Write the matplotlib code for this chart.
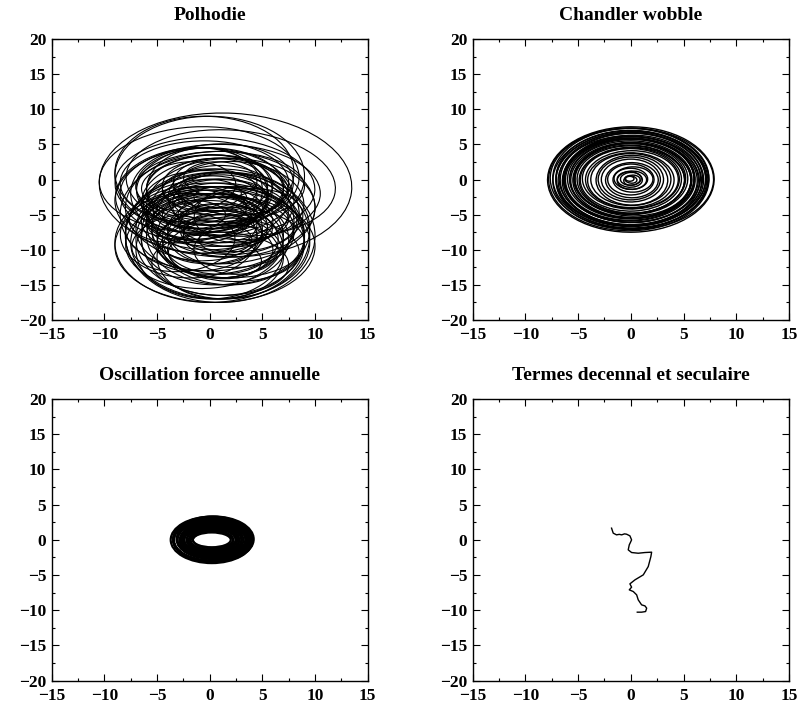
import matplotlib
matplotlib.use("Agg")
import matplotlib.pyplot as plt
from matplotlib.patches import Ellipse
from matplotlib.ticker import MultipleLocator

# ---------------- data ----------------
titles = ["Polhodie", "Chandler wobble", "Oscillation forcee annuelle", "Termes decennal et seculaire"]
xticks = [-15, -10, -5, 0, 5, 10, 15]
yticks = [-20, -15, -10, -5, 0, 5, 10, 15, 20]

# loops of the polhody: centre x, centre y, width, height, tilt (deg)
pol_cx = [1.5, 0, -1, 0.5, -0.5, 0, 0.5, 0, 0.5, 0, 0.5, 0, 1, -0.5, 1, -1, 1, -0.5, 2,
          0, 1, 0, 1, 0, 1, -0.5, 2, 0.5,
          1, 0.5, 1, 1.5, 0.5, 1, 1, 0.5, 1, 1.5, 1, 0, 2, 1, 0, 1, 2, -1, 0.5, 1.5, 0, 1,
          -1.5, 2.5, 0, -2, 3, 1, -1, 2, 0.5, -0.5, 1.5, 0, 2, -1, 1,
          -2, 2, 0, 3, -1, 1.5, -2.5, 0.5, 2.5, -0.5, 1, -1.5, 0, 2, 1]
pol_cy = [-0.8, 0.5, 0, -1, -0.5, -1, -1.5, -1, -1, -1.5, -2, -2, -2.5, -1.5, -1, -2, -2, 1, -0.5,
          -4, -5, -6, -3, -5, -4, -3, -4, -3,
          -8, -8, -8.5, -8, -8.5, -8, -8.5, -8, -8, -8.5, -9, -9, -7, -6, -10, -11, -9, -7, -9.5, -8, -7, -10,
          -2, -3, -7, -8, -6, -4.5, -5.5, -10, -1, -9, -6.5, -3.5, -7.5, -4, -12,
          -1, -2, -4, -5, -6, -7, -9, -11, -10, -3, 0, -5, -8, -1, -6]
pol_w = [24, 18, 19, 19, 16, 14, 13, 12, 10, 9, 8, 6, 5, 11, 16, 13, 19, 17, 20,
         10, 8, 12, 9, 17, 18, 17, 16, 14,
         18, 17, 16, 15, 14, 12, 11, 9, 7, 5, 17, 18, 15, 14, 14, 12, 14, 12, 19, 16, 16, 10,
         15, 13, 11, 13, 12, 15, 10, 13, 15, 15, 9, 11, 12, 14, 13,
         9, 10, 7, 9, 11, 8, 10, 9, 8, 12, 7, 6, 10, 11, 13]
pol_h = [20.5, 17, 15, 14, 12, 11, 10, 9, 8, 6, 5, 4, 3, 12, 10, 13, 14, 16, 15,
         6, 5, 8, 6, 17, 16, 15, 14, 12,
         19, 18, 16, 14, 13, 12, 10, 8, 6, 4, 16, 17, 16, 16, 14, 12, 10, 12, 16, 18, 12, 8,
         13, 11, 10, 12, 9, 11, 7, 9, 12, 13, 6, 8, 10, 9, 9,
         7, 6, 5, 8, 9, 5, 8, 6, 7, 6, 5, 4, 7, 8, 7]
pol_ang = [-5, 0, 5, -5, 0, 0, 0, 5, 0, 0, -5, 0, 0, 0, 0, 0, 0, 0, -10,
           0, 0, 0, 0, 0, 0, 0, 0, 10,
           0, 0, 0, 0, 0, 0, 0, 0, 0, 0, 0, 0, 0, 0, 0, 0, 0, 0, 0, 0, 0, 0,
           15, -15, 10, -10, 20, -20, 5, -5, 12, 8, -12, 18, -8, 25, -3,
           10, -10, 0, 15, -5, 5, 20, -15, 0, 8, -8, 0, 12, -12, 4]

# Chandler wobble loops
ch_cx = [0, -0.2, 0, 0.1, -0.1, 0, 0.1, 0, -0.1, 0, 0, 0.1, 0, -0.1, 0.1, 0, 0, 0.1, 0,
         0, 0.1, 0, 0, 0.1, 0, 0.2, 0, 0.1, -0.1, 0, 0.1, 0, -0.1,
         0.1, -0.1, 0, 0.2, -0.2, 0.1, 0, -0.1, 0.1, 0, 0.2, -0.1, 0]
ch_cy = [0, 0, 0.2, -0.1, 0, 0.1, -0.2, 0, 0, 0.1, 0, -0.1, 0.1, 0, -0.1, 0, 0.1, 0, -0.1,
         0, -0.1, 0, 0, -0.1, 0, 0, 0.1, -0.1, 0, 0.1, -0.1, 0, 0.1,
         0.1, -0.1, 0.2, 0, -0.2, 0.1, -0.1, 0, 0.1, -0.1, 0, 0.1, 0]
ch_w = [15.8, 15.2, 14.8, 14.4, 14.0, 13.6, 13.2, 12.8, 12.4, 12.0, 11.6, 11.2, 10.8, 10.4,
        10.0, 9.6, 9.2, 8.8, 8.2, 7.6, 6.8, 6.2, 5.6, 5.0, 4.4, 3.8, 3.2, 2.8, 2.4, 2.0, 1.6, 1.2, 0.8,
        15.5, 14.6, 14.2, 13.8, 13.4, 13.0, 12.6, 12.2, 11.8, 11.4, 11.0, 10.6, 10.2]
ch_h = [15.0, 14.6, 14.2, 13.8, 13.4, 13.0, 12.6, 12.2, 11.8, 11.4, 11.0, 10.6, 10.2, 9.8,
        9.4, 9.0, 8.6, 8.2, 7.8, 7.4, 7.1, 6.4, 5.8, 5.0, 4.4, 3.6, 3.0, 2.6, 2.2, 1.8, 1.4, 1.0, 0.7,
        14.4, 14.0, 13.6, 13.2, 12.8, 12.4, 12.0, 11.6, 11.2, 10.8, 10.4, 10.0, 9.6]
ch_ang = [3, -3, 0, 4, -2, 0, 2, -4, 0, 3, -3, 0, 2, -2, 0, 4, -4, 0, 2,
          0, 3, -3, 0, 5, -5, 10, -10, 15, -15, 20, 30, -30, 0,
          -4, 5, -6, 3, -2, 6, -5, 4, -3, 2, -6, 5, -4]

# annual forced oscillation loops
an_cx = [0.2, 0.3, 0.2, 0.1, 0.25, 0.2, 0.3, 0.2, 0.15, 0.25, 0.2, 0.3, 0.2, 0.25, 0.2, 0.3, 0.2,
         0.35, 0.15, 0.25, 0.3, 0.2, 0.1, 0.3, 0.2, 0.25]
an_cy = [0, 0.05, -0.05, 0, 0.1, 0, -0.1, 0, 0.05, 0, -0.05, 0, 0.05, 0, -0.05, 0, 0,
         0.1, -0.1, 0, 0.05, -0.05, 0.1, 0, -0.1, 0]
an_w = [7.8, 7.5, 7.3, 7.0, 6.8, 6.5, 6.3, 6.0, 5.8, 5.5, 5.2, 5.0, 4.7, 4.4, 4.1, 3.8, 3.6,
        7.65, 7.15, 6.65, 6.15, 5.65, 5.1, 4.55, 4.0, 7.4]
an_h = [6.6, 6.3, 6.0, 5.8, 5.5, 5.3, 5.0, 4.8, 4.5, 4.2, 4.0, 3.7, 3.4, 3.1, 2.8, 2.4, 2.1,
        6.45, 5.9, 5.4, 4.9, 4.4, 3.85, 3.25, 2.6, 6.2]

# decadal and secular terms (path)
sec_x = [-1.83, -1.75, -1.67, -1.36, -1.1, -0.87, -0.6, -0.40, -0.09, 0.07, -0.05, -0.15, -0.25,
         0.07, 0.7, 1.34, 1.97, 1.9, 1.65, 1.18, 0.39, -0.09, 0.07, -0.15, 0.23, 0.55, 0.7,
         1.02, 1.34, 1.5, 1.4, 1.02, 0.61]
sec_y = [1.66, 1.3, 0.95, 0.71, 0.78, 0.71, 0.85, 0.8, 0.57, 0.0, -0.4, -0.71, -1.42,
         -1.8, -1.9, -1.8, -1.75, -2.37, -3.79, -4.97, -5.68, -6.25, -6.72, -7.1, -7.34, -7.81, -8.52,
         -9.23, -9.38, -9.7, -10.18, -10.27, -10.27]

# ---------------- figure ----------------
plt.rcParams['font.family'] = ['Liberation Serif', 'DejaVu Serif']
plt.rcParams['font.weight'] = 'bold'

fig = plt.figure(figsize=(7.99, 7.06), dpi=100)
W, H = 799.0, 706.0
boxes = [(51.7, 39, 367.7, 320), (472.7, 39, 789, 320),
         (51.7, 399, 367.7, 680.7), (472.7, 399, 789, 680.7)]
axes = []
for (x0, y0, x1, y1) in boxes:
    ax = fig.add_axes([x0 / W, 1 - y1 / H, (x1 - x0) / W, (y1 - y0) / H])
    axes.append(ax)


def ellipses(ax, cx, cy, w, h, ang=None, lw=0.8):
    for i in range(len(cx)):
        a = 0 if ang is None else ang[i]
        ax.add_patch(Ellipse((cx[i], cy[i]), w[i], h[i], angle=a, fill=False,
                             edgecolor='black', linewidth=lw))


ellipses(axes[0], pol_cx, pol_cy, pol_w, pol_h, pol_ang, lw=0.8)
ellipses(axes[1], ch_cx, ch_cy, ch_w, ch_h, ch_ang, lw=1.0)
ellipses(axes[2], an_cx, an_cy, an_w, an_h, lw=1.6)
axes[3].plot(sec_x, sec_y, color='black', linewidth=1.0)

for ax, t in zip(axes, titles):
    ax.set_xlim(-15, 15)
    ax.set_ylim(-20, 20)
    ax.set_xticks(xticks)
    ax.set_yticks(yticks)
    ax.set_xticklabels([str(v).replace('-', '\u2212') for v in xticks])
    ax.set_yticklabels([str(v).replace('-', '\u2212') for v in yticks])
    ax.xaxis.set_minor_locator(MultipleLocator(2.5))
    ax.yaxis.set_minor_locator(MultipleLocator(2.5))
    ax.tick_params(which='both', direction='in', top=True, right=True, width=0.8)
    ax.tick_params(which='major', length=5, labelsize=12.5)
    ax.tick_params(axis='x', which='major', pad=5)
    ax.tick_params(axis='y', which='major', pad=4)
    ax.tick_params(which='minor', length=2.5)
    for lab in ax.get_xticklabels() + ax.get_yticklabels():
        lab.set_fontweight('bold')
    for s in ax.spines.values():
        s.set_linewidth(1.0)
    ax.set_title(t, fontsize=14, fontweight='bold', pad=14)

fig.savefig("out.png", dpi=100)
